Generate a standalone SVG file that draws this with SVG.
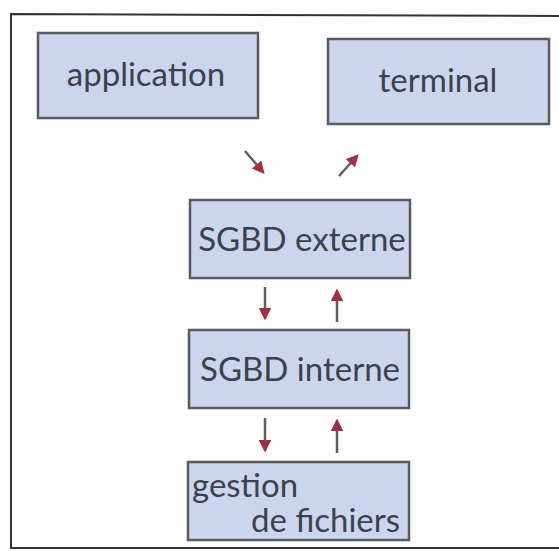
<svg xmlns="http://www.w3.org/2000/svg" width="559" height="551" viewBox="0 0 559 551">
  <style>
    .box { fill: #cbd6ee; stroke: #585c62; stroke-width: 2.5; }
    .lbl { font-family: "Lato", "Open Sans", "Liberation Sans", sans-serif; font-size: 33px; fill: #3b414d; }
    .arr { stroke: #5e5e66; stroke-width: 2.5; fill: none; marker-end: url(#head); }
  </style>
  <defs>
    <marker id="head" viewBox="0 0 10 10" refX="8" refY="5" markerWidth="5" markerHeight="5" orient="auto" markerUnits="strokeWidth">
      <path d="M0,0 L10,5 L0,10 Z" fill="#9e3046"/>
    </marker>
  </defs>
  <rect width="559" height="551" fill="#fdfdfd"/>
  <!-- outer frame, open on the right -->
  <path d="M563,16 L11,14 L11,548 L563,548" fill="none" stroke="#333" stroke-width="2"/>

  <g id="application">
    <rect class="box" x="38" y="33" width="220" height="85"/>
    <text class="lbl" x="146" y="86" text-anchor="middle">application</text>
  </g>
  <g id="terminal">
    <rect class="box" x="328" y="39" width="221" height="85"/>
    <text class="lbl" x="438" y="92" text-anchor="middle">terminal</text>
  </g>
  <g id="sgbd-externe">
    <rect class="box" x="190" y="200" width="220" height="78"/>
    <text class="lbl" x="302" y="251" text-anchor="middle">SGBD externe</text>
  </g>
  <g id="sgbd-interne">
    <rect class="box" x="189" y="330" width="220" height="78"/>
    <text class="lbl" x="300" y="381" text-anchor="middle">SGBD interne</text>
  </g>
  <g id="gestion-fichiers">
    <rect class="box" x="188" y="462" width="221" height="78"/>
    <text class="lbl" x="192" y="497">gestion</text>
    <text class="lbl" x="400" y="532" text-anchor="end">de fichiers</text>
  </g>

  <g id="connectors">
    <line class="arr" x1="245" y1="151" x2="263" y2="172"/>
    <line class="arr" x1="339" y1="176" x2="357" y2="156"/>
    <line class="arr" x1="265" y1="287" x2="265" y2="318"/>
    <line class="arr" x1="337" y1="322" x2="337" y2="291"/>
    <line class="arr" x1="265" y1="418" x2="265" y2="450"/>
    <line class="arr" x1="337" y1="453" x2="337" y2="421"/>
  </g>
</svg>
